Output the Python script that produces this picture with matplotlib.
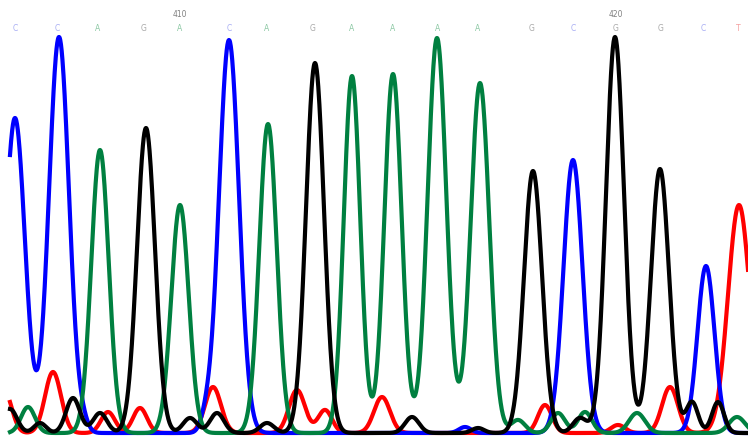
"""Sanger chromatogram, bases 406-423."""
import matplotlib.pyplot as plt
import numpy as np

# base calls along the top
bases = ["C", "C", "A", "G", "A", "C", "A", "G", "A", "A", "A", "A", "G", "C", "G", "G", "C", "T"]
base_pos = [15, 57, 98, 144, 180, 229, 267, 313, 352, 393, 438, 478, 532, 573, 616, 661, 703, 738]
first_base = 406

# peaks per channel: scan position, height, width
c_pos = [15, 59, 229, 573, 706, 83, 206, 465]
c_height = [315, 396, 393, 273, 167, 8, 12, 6]
c_width = [10, 10, 10, 9.5, 8.5, 5, 5, 6]

a_pos = [100, 180, 268, 352, 393, 437, 480, 28, 518, 558, 585, 637, 737]
a_height = [283, 228, 309, 357, 359, 395, 350, 26, 13, 20, 21, 20, 16]
a_width = [8.7, 8.7, 8.7, 8.2, 8.6, 9.3, 9.3, 7, 7, 7, 7, 8, 8]

g_pos = [146, 315, 533, 615, 660, 10, 40, 73, 100, 190, 217, 267, 412, 478, 580, 692, 718]
g_height = [305, 370, 262, 396, 264, 24, 10, 35, 20, 15, 20, 10, 16, 5, 15, 31, 31]
g_width = [9, 9, 9, 9, 9, 7, 6, 7, 7, 7, 7, 7, 7, 6, 7, 6, 6]

t_pos = [5, 53, 108, 140, 213, 297, 325, 382, 545, 618, 670, 739]
t_height = [40, 61, 21, 25, 46, 43, 23, 36, 28, 8, 46, 228]
t_width = [7, 8, 7, 7, 8, 8, 7, 8, 7, 7, 8, 11]

channels = [
    (t_pos, t_height, t_width, "#ff0000"),
    (c_pos, c_height, c_width, "#0000ff"),
    (a_pos, a_height, a_width, "#008040"),
    (g_pos, g_height, g_width, "#000000"),
]
label_colors = {"A": "#8cc8a4", "C": "#a8aef4", "G": "#a8a8a8", "T": "#f4a0a0"}

fig = plt.figure(figsize=(7.48, 4.36), dpi=100)
ax = fig.add_axes([0, 0, 1, 1])
ax.set_xlim(0, 748)
ax.set_ylim(-3, 433)
ax.axis("off")

x = np.linspace(10, 748, 2000)
for pos, height, width, color in channels:
    trace = np.zeros_like(x)
    for p, h, w in zip(pos, height, width):
        trace += h * np.exp(-((x - p) ** 2) / (2 * w ** 2))
    ax.plot(x, trace, color=color, lw=3, solid_joinstyle="round")

for i, (b, p) in enumerate(zip(bases, base_pos)):
    ax.text(p, 404, b, color=label_colors[b], fontsize=5.5, ha="center", va="center")
    if (first_base + i) % 10 == 0:
        ax.text(p, 418, str(first_base + i), color="#808080", fontsize=5.5, ha="center", va="center")

fig.savefig("out.png", dpi=100)
